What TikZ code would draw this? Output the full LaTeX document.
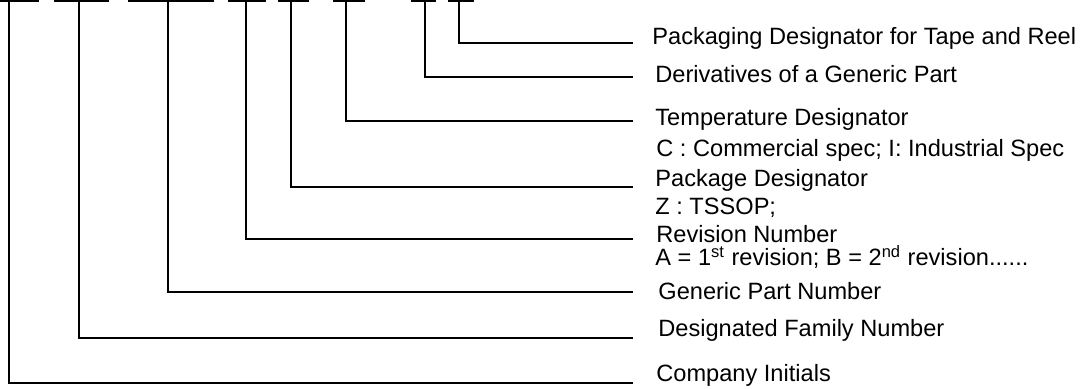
\documentclass[tikz,border=0pt]{standalone}
\usepackage{fontspec}
\setmainfont{Liberation Sans}
\usepackage{tikz}
\tikzset{lead/.style={line width=1pt,black},
  lbl/.style={anchor=base west,inner sep=0pt,font=\fontsize{11.8}{14}\selectfont}}

\begin{document}
\begin{tikzpicture}[x=0.5pt,y=-0.5pt]
\useasboundingbox (0,0) rectangle (1086,389);
% letter slots of the part number, with their drop points
\foreach \n/\a/\m/\b in {1/0/9/39, 2/54/79/109, 3/128/168/214, 4/228/246/266, 5/278/291/309, 6/333/346/365, 7/411/425/436, 8/448/459/474}
  {\draw[lead] (\a,1)--(\b,1); \coordinate (t\n) at (\m,1);}
% ends of the leaders
\coordinate (e1) at (633,383); \coordinate (e2) at (633,338); \coordinate (e3) at (633,292); \coordinate (e4) at (633,239);
\coordinate (e5) at (633,187); \coordinate (e6) at (633,121); \coordinate (e7) at (633,77); \coordinate (e8) at (633,43);
\foreach \n in {1,...,8} \draw[lead] (t\n) |- (e\n);
% labels
\node[lbl] (pk) at (652,45) {Packaging Designator for Tape and Reel};
\node[lbl] (dv) at (655,83) {Derivatives of a Generic Part};
\node[lbl] (tp) at (655,126) {Temperature Designator};
\node[lbl] (tpc) at (656,157) {C : Commercial spec; I: Industrial Spec};
\node[lbl] (pd) at (655,187) {Package Designator};
\node[lbl] (pdz) at (655,215) {Z : TSSOP;};
\node[lbl] (rv) at (656,243) {Revision Number};
\node[lbl] (rva) at (655,266) {A = 1\textsuperscript{st} revision; B = 2\textsuperscript{nd} revision......};
\node[lbl] (gp) at (658,300) {Generic Part Number};
\node[lbl] (df) at (658,337) {Designated Family Number};
\node[lbl] (ci) at (656,381) {Company Initials};
\end{tikzpicture}
\end{document}
